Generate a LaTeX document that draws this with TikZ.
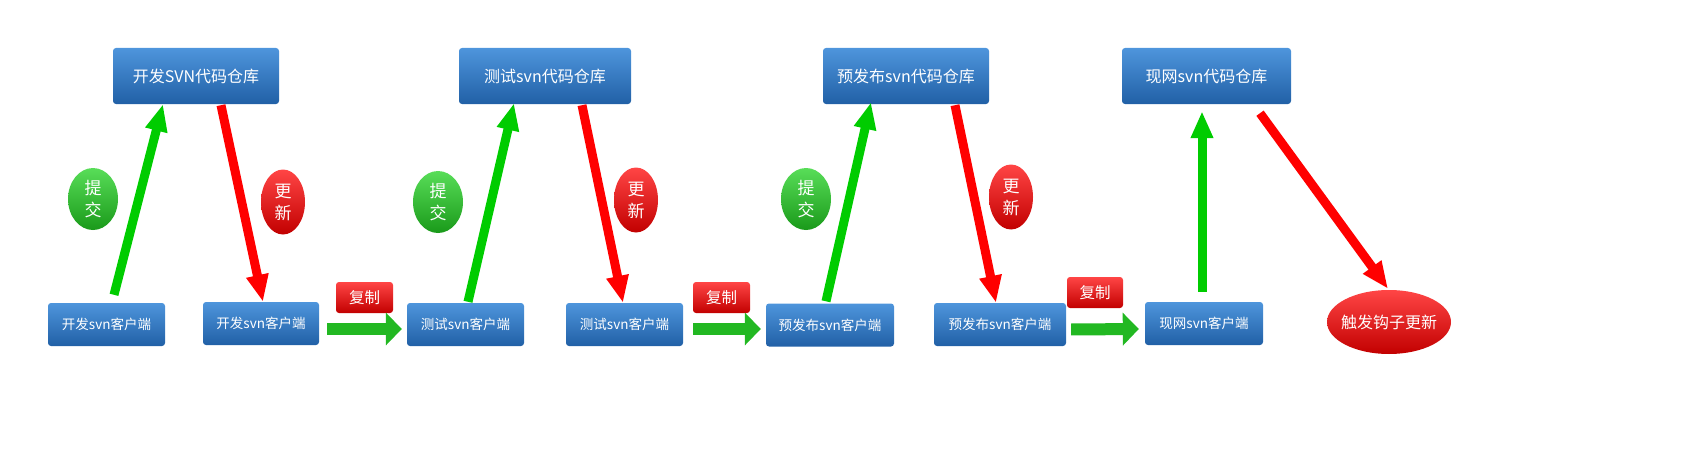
\documentclass[tikz,border=0pt]{standalone}
\usepackage{fontspec}
\setmainfont{Noto Sans CJK SC}
\usetikzlibrary{arrows.meta,shapes.geometric}
\definecolor{boxtop}{HTML}{4E95DC}
\definecolor{boxbot}{HTML}{2160A6}
\definecolor{gtop}{HTML}{58DD58}
\definecolor{gbot}{HTML}{1A9A1A}
\definecolor{rtop}{HTML}{FF4545}
\definecolor{rbot}{HTML}{C20000}
\definecolor{garrow}{HTML}{00CC00}
\definecolor{rarrow}{HTML}{FF0000}
\definecolor{harrow}{HTML}{22B822}
\begin{document}
\begin{tikzpicture}[x=1pt,y=-1pt,
  repo/.style={rectangle,rounded corners=3pt,top color=boxtop,bottom color=boxbot,draw=none,
    text=white,inner sep=0pt,font=\fontsize{16}{19}\selectfont},
  client/.style={rectangle,rounded corners=3pt,top color=boxtop,bottom color=boxbot,draw=none,
    text=white,inner sep=0pt,minimum height=43pt,font=\fontsize{13.5}{16}\selectfont},
  submitlbl/.style={ellipse,top color=gtop,bottom color=gbot,draw=none,text=white,inner sep=0pt,
    minimum width=50pt,minimum height=62pt,align=center,font=\fontsize{17}{22}\selectfont},
  updatelbl/.style={ellipse,top color=rtop,bottom color=rbot,draw=none,text=white,inner sep=0pt,
    minimum width=44pt,minimum height=65pt,align=center,font=\fontsize{17}{22}\selectfont},
  copylbl/.style={rectangle,rounded corners=3pt,top color=rtop,bottom color=rbot,draw=none,text=white,
    inner sep=0pt,minimum width=57pt,minimum height=31pt,font=\fontsize{15.5}{18}\selectfont},
  hooklbl/.style={ellipse,top color=rtop,bottom color=rbot,draw=none,text=white,inner sep=0pt,
    minimum width=124pt,minimum height=64pt,font=\fontsize{16}{19}\selectfont},
  uparrow/.style={draw=garrow,line width=9pt,-{Triangle[length=27pt,width=21pt]}},
  downarrow/.style={draw=rarrow,line width=9pt,-{Triangle[length=27pt,width=21pt]}},
  copyarrow/.style={draw=harrow,line width=12pt,-{Triangle[length=16pt,width=32pt]}}
]
\useasboundingbox (0,0) rectangle (1701,452);

% repositories
\node[repo,minimum width=166pt,minimum height=56pt] (r1) at (196,76) {开发SVN代码仓库};
\node[repo,minimum width=172pt,minimum height=56pt] (r2) at (545,76) {测试svn代码仓库};
\node[repo,minimum width=166pt,minimum height=56pt] (r3) at (906,76) {预发布svn代码仓库};
\node[repo,minimum width=169pt,minimum height=56pt] (r4) at (1206.5,76) {现网svn代码仓库};

% clients
\node[client,minimum width=117pt] (c1) at (106.5,324.5) {开发svn客户端};
\node[client,minimum width=116pt] (c2) at (261,323.5) {开发svn客户端};
\node[client,minimum width=117pt] (c3) at (465.5,324.5) {测试svn客户端};
\node[client,minimum width=117pt] (c4) at (624.5,324.5) {测试svn客户端};
\node[client,minimum width=128pt] (c5) at (830,325) {预发布svn客户端};
\node[client,minimum width=132pt] (c6) at (1000,324.5) {预发布svn客户端};
\node[client,minimum width=118pt] (c7) at (1204,323.5) {现网svn客户端};

\node[hooklbl] (h) at (1389,322) {\makebox[0pt]{触发钩子更新}};

% labels
\node[submitlbl] (s1) at (93,199) {提\\交};
\node[submitlbl] (s2) at (438,202) {提\\交};
\node[submitlbl] (s3) at (806,199) {提\\交};
\node[updatelbl] (u1) at (283,202) {更\\新};
\node[updatelbl] (u2) at (636,200) {更\\新};
\node[updatelbl] (u3) at (1011,197) {更\\新};
\node[copylbl] (k1) at (364.5,297.5) {复制};
\node[copylbl] (k2) at (721.5,297.5) {复制};
\node[copylbl,minimum width=56pt] (k3) at (1095,292.5) {复制};

% commit arrows
\draw[uparrow] ([xshift=7.5pt,yshift=8pt]c1.north) -- ([xshift=-33pt]r1.south);
\draw[uparrow] ([xshift=2.5pt,yshift=1pt]c3.north) -- ([xshift=-31pt,yshift=1pt]r2.south);
\draw[uparrow] ([xshift=-4pt,yshift=2pt]c5.north) -- ([xshift=-35pt,yshift=2pt]r3.south);
\draw[uparrow] ([xshift=-2pt,yshift=10pt]c7.north) -- ([xshift=-4.5pt,yshift=-7pt]r4.south);

% update arrows
\draw[downarrow] ([xshift=25pt,yshift=-1pt]r1.south) -- ([xshift=2pt]c2.north);
\draw[downarrow] ([xshift=37pt,yshift=-1pt]r2.south) -- ([xshift=-1.5pt]c4.north);
\draw[downarrow] ([xshift=49pt,yshift=-1pt]r3.south) -- ([xshift=-4pt]c6.north);
\draw[downarrow] ([xshift=53.5pt,yshift=-9pt]r4.south) -- ([xshift=-1pt,yshift=1pt]h.north);

% copy arrows
\draw[copyarrow] ([xshift=8pt,yshift=-5.5pt]c2.east) -- ([xshift=-5pt,yshift=-4.5pt]c3.west);
\draw[copyarrow] ([xshift=10pt,yshift=-4.5pt]c4.east) -- ([xshift=-5pt,yshift=-4pt]c5.west);
\draw[copyarrow] ([xshift=5pt,yshift=-5pt]c6.east) -- ([xshift=-6pt,yshift=-5.5pt]c7.west);
\end{tikzpicture}
\end{document}
